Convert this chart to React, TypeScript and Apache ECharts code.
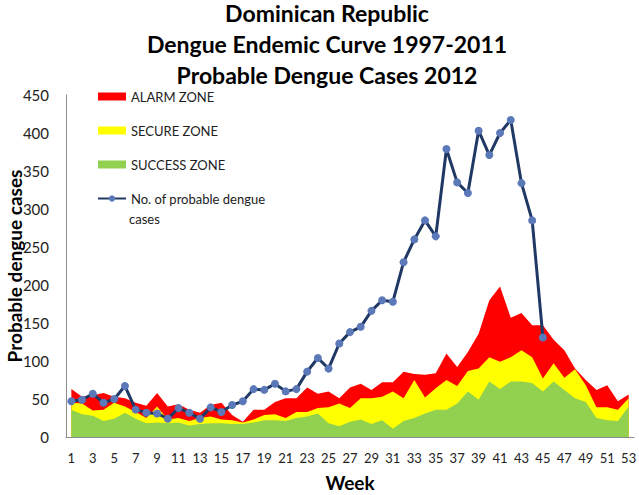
import React, { useEffect, useRef } from "react";
import * as echarts from "echarts";

const weeks: string[] = Array.from({ length: 53 }, (_, i) => String(i + 1));

const titleLines: string[] = [
  "Dominican Republic",
  "Dengue Endemic Curve 1997-2011",
  "Probable Dengue Cases 2012",
];

// Upper limits of each zone per week (1..53)
const alarmZone: number[] = [
  63, 53, 55, 58, 53, 51, 45, 41, 58, 40, 43, 36, 32, 42, 45, 29, 20, 36, 36, 46,
  51, 51, 65, 57, 60, 51, 65, 70, 62, 72, 72, 86, 83, 82, 84, 110, 92, 112, 136, 180,
  198, 157, 163, 147, 147, 128, 114, 90, 75, 62, 68, 47, 56,
];
const secureZone: number[] = [
  45, 44, 35, 36, 45, 40, 33, 25, 40, 23, 25, 21, 25, 27, 23, 22, 19, 23, 29, 30,
  25, 33, 33, 38, 39, 44, 38, 51, 51, 53, 60, 51, 75, 52, 64, 75, 67, 87, 90, 105,
  99, 105, 114, 105, 77, 97, 78, 89, 68, 39, 39, 36, 51,
];
const successZone: number[] = [
  36, 30, 28, 21, 24, 32, 24, 18, 19, 18, 19, 15, 17, 18, 18, 17, 17, 19, 22, 22,
  21, 25, 27, 31, 18, 14, 20, 23, 17, 22, 11, 21, 25, 31, 36, 36, 44, 60, 49, 73,
  63, 73, 73, 71, 60, 73, 62, 51, 46, 25, 22, 21, 40,
];
const probableCases: (number | null)[] = [
  47, 49, 57, 45, 50, 67, 36, 32, 31, 24, 38, 32, 24, 39, 33, 42, 47, 63, 62, 70,
  60, 63, 86, 104, 90, 123, 138, 145, 166, 180, 178, 230, 260, 285, 264, 379, 335, 321, 403, 371,
  400, 417, 334, 285, 131,
];

const seriesNames = [
  "ALARM ZONE",
  "SECURE ZONE",
  "SUCCESS ZONE",
  "No. of probable dengue cases",
];

const FONT = "Lato, 'Open Sans', sans-serif";

export default function App() {
  const ref = useRef<HTMLDivElement>(null);

  useEffect(() => {
    document.body.style.margin = "0";
    if (!ref.current) return;
    const chart = echarts.init(ref.current, undefined, { renderer: "svg" });

    const area = (name: string, data: number[], color: string) => ({
      name,
      type: "line",
      data,
      symbol: "none",
      showSymbol: false,
      lineStyle: { width: 0, color },
      itemStyle: { color },
      areaStyle: { color, opacity: 1 },
      emphasis: { disabled: true },
    });

    chart.setOption({
      animation: false,
      textStyle: { fontFamily: FONT },
      graphic: [
        ...titleLines.map((t, i) => ({
          type: "text",
          x: 327,
          y: 13 + i * 31,
          style: {
            text: t,
            fontFamily: FONT,
            fontSize: 23,
            fontWeight: "bold",
            fill: "#000",
            align: "center",
            verticalAlign: "middle",
          },
        })),
        {
          type: "text",
          x: 129,
          y: 219,
          style: {
            text: "cases",
            fontFamily: FONT,
            fontSize: 13,
            fill: "#222",
            verticalAlign: "middle",
          },
        },
      ],
      legend: {
        orient: "vertical",
        left: 97,
        top: 90,
        padding: 0,
        itemWidth: 28,
        itemHeight: 8,
        itemGap: 21,
        data: [
          { name: seriesNames[0], icon: "rect" },
          { name: seriesNames[1], icon: "rect" },
          { name: seriesNames[2], icon: "rect" },
          { name: seriesNames[3] },
        ],
        formatter: (n: string) =>
          n === "No. of probable dengue cases" ? "No. of probable dengue" : n,
        textStyle: { fontFamily: FONT, fontSize: 13, color: "#222" },
        selectedMode: false,
      },
      grid: { left: 66, right: 5, top: 95, bottom: 58, containLabel: false, outerBoundsMode: "none" },
      xAxis: {
        type: "category",
        data: weeks,
        boundaryGap: true,
        name: "Week",
        nameLocation: "middle",
        nameGap: 36,
        nameMoveOverlap: false,
        nameTextStyle: { fontFamily: FONT, fontSize: 19, fontWeight: "bold", color: "#000" },
        axisLine: { lineStyle: { color: "#8c8c8c", width: 1 } },
        axisTick: { show: false },
        axisLabel: { interval: 1, fontFamily: FONT, fontSize: 13, color: "#222", margin: 14 },
        splitLine: { show: false },
      },
      yAxis: {
        type: "value",
        min: 0,
        max: 450,
        interval: 50,
        name: "Probable dengue cases",
        nameLocation: "middle",
        nameGap: 42,
        nameMoveOverlap: false,
        nameTextStyle: { fontFamily: FONT, fontSize: 19, fontWeight: "bold", color: "#000" },
        axisLine: { show: true, lineStyle: { color: "#8c8c8c", width: 1 } },
        axisTick: { show: false },
        axisLabel: { fontFamily: FONT, fontSize: 15, color: "#222", margin: 17 },
        splitLine: { show: false },
      },
      series: [
        area(seriesNames[0], alarmZone, "#FF0000"),
        area(seriesNames[1], secureZone, "#FFFF00"),
        area(seriesNames[2], successZone, "#92D050"),
        {
          name: seriesNames[3],
          type: "line",
          data: probableCases,
          symbol: "circle",
          symbolSize: 8,
          showAllSymbol: true,
          lineStyle: { color: "#1F3864", width: 3 },
          itemStyle: { color: "#5B78B8" },
          emphasis: { disabled: true },
        },
      ],
    });

    return () => chart.dispose();
  }, []);

  return <div ref={ref} style={{ width: 639, height: 495 }} />;
}
